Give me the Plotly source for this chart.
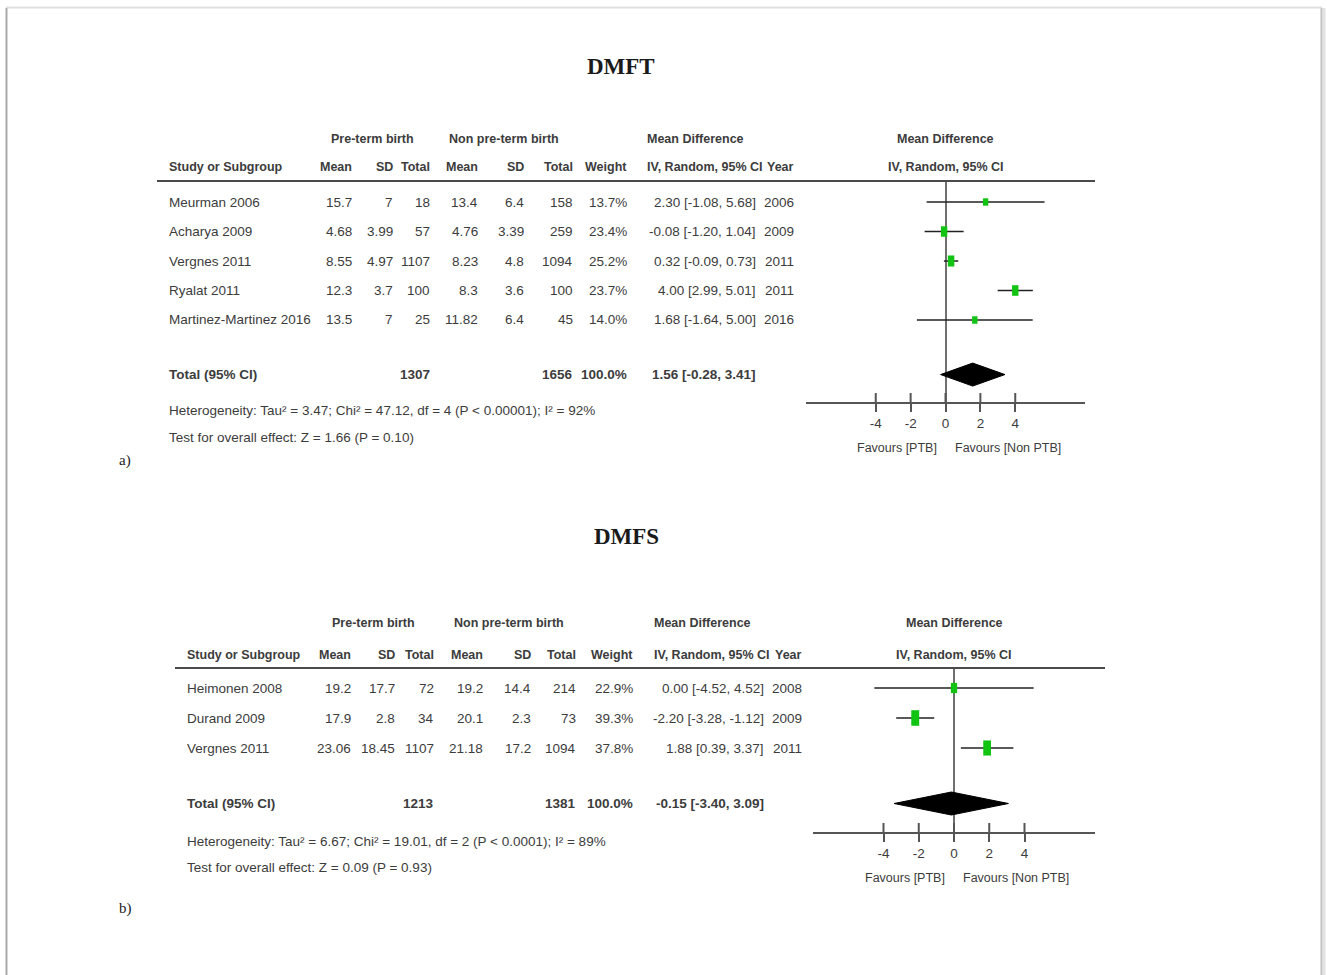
import plotly.graph_objects as go

# ---------------- DMFT ----------------
dmft_studies = ["Meurman 2006", "Acharya 2009", "Vergnes 2011", "Ryalat 2011", "Martinez-Martinez 2016"]
dmft_ptb_mean = [15.7, 4.68, 8.55, 12.3, 13.5]
dmft_ptb_sd = [7, 3.99, 4.97, 3.7, 7]
dmft_ptb_total = [18, 57, 1107, 100, 25]
dmft_non_mean = [13.4, 4.76, 8.23, 8.3, 11.82]
dmft_non_sd = [6.4, 3.39, 4.8, 3.6, 6.4]
dmft_non_total = [158, 259, 1094, 100, 45]
dmft_weight = [13.7, 23.4, 25.2, 23.7, 14.0]
dmft_md = [2.30, -0.08, 0.32, 4.00, 1.68]
dmft_ci_low = [-1.08, -1.20, -0.09, 2.99, -1.64]
dmft_ci_high = [5.68, 1.04, 0.73, 5.01, 5.00]
dmft_year = [2006, 2009, 2011, 2011, 2016]
dmft_pooled = [1.56, -0.28, 3.41]
dmft_heterogeneity = "Heterogeneity: Tau² = 3.47; Chi² = 47.12, df = 4 (P < 0.00001); I² = 92%"
dmft_overall = "Test for overall effect: Z = 1.66 (P = 0.10)"

# ---------------- DMFS ----------------
dmfs_studies = ["Heimonen 2008", "Durand 2009", "Vergnes 2011"]
dmfs_ptb_mean = [19.2, 17.9, 23.06]
dmfs_ptb_sd = [17.7, 2.8, 18.45]
dmfs_ptb_total = [72, 34, 1107]
dmfs_non_mean = [19.2, 20.1, 21.18]
dmfs_non_sd = [14.4, 2.3, 17.2]
dmfs_non_total = [214, 73, 1094]
dmfs_weight = [22.9, 39.3, 37.8]
dmfs_md = [0.00, -2.20, 1.88]
dmfs_ci_low = [-4.52, -3.28, 0.39]
dmfs_ci_high = [4.52, -1.12, 3.37]
dmfs_year = [2008, 2009, 2011]
dmfs_pooled = [-0.15, -3.40, 3.09]
dmfs_heterogeneity = "Heterogeneity: Tau² = 6.67; Chi² = 19.01, df = 2 (P < 0.0001); I² = 89%"
dmfs_overall = "Test for overall effect: Z = 0.09 (P = 0.93)"

axis_ticks = [-4, -2, 0, 2, 4]
favours_left = "Favours [PTB]"
favours_right = "Favours [Non PTB]"

panels = [
    dict(title="DMFT", tag="a)", studies=dmft_studies, m1=dmft_ptb_mean, sd1=dmft_ptb_sd, n1=dmft_ptb_total,
         m2=dmft_non_mean, sd2=dmft_non_sd, n2=dmft_non_total, w=dmft_weight, md=dmft_md,
         lo=dmft_ci_low, hi=dmft_ci_high, year=dmft_year, pooled=dmft_pooled,
         het=dmft_heterogeneity, test=dmft_overall),
    dict(title="DMFS", tag="b)", studies=dmfs_studies, m1=dmfs_ptb_mean, sd1=dmfs_ptb_sd, n1=dmfs_ptb_total,
         m2=dmfs_non_mean, sd2=dmfs_non_sd, n2=dmfs_non_total, w=dmfs_weight, md=dmfs_md,
         lo=dmfs_ci_low, hi=dmfs_ci_high, year=dmfs_year, pooled=dmfs_pooled,
         het=dmfs_heterogeneity, test=dmfs_overall),
]

# ---------------- page geometry (pixels) ----------------
W, H = 1327, 975
X_RANGE = [-8, 8]

GEOMETRY = [
    dict(title_x=621, title_y=66, tag_y=460, grp_y=139, head_y=167, rule_y=181, rule_x=(157, 1095),
         row0=202, step=29.5, axis_y=402, axis_x=(806, 1085), het_y=410, test_y=437, fav_y=448,
         c_study=167, c_m1=354, c_sd1=395, c_n1=432, c_m2=480, c_sd2=526, c_n2=575, c_w=629,
         c_md=645, c_ci=758, c_year=796, c_grp1=372, c_grp2=504),
    dict(title_x=626, title_y=536, tag_y=908, grp_y=623, head_y=655, rule_y=668, rule_x=(175, 1105),
         row0=688, step=30, axis_y=832, axis_x=(813, 1095), het_y=841, test_y=867, fav_y=878,
         c_study=185, c_m1=353, c_sd1=397, c_n1=436, c_m2=485, c_sd2=533, c_n2=578, c_w=635,
         c_md=652, c_ci=766, c_year=804, c_grp1=373, c_grp2=509),
]

TEXT = "#3c3c3c"
AXIS = "#555555"
GREEN = "#12c412"
SANS = "Liberation Sans, Arial, sans-serif"
SERIF = "Liberation Serif, Times New Roman, serif"
FS = 13.5      # body rows
FH = 12.5      # bold column headers
FF = 12.5      # favours labels


def fx(p):
    return p / W


def fy(p):
    return 1 - p / H


def num(v):
    return f"{v:g}"


fig = go.Figure()
annotations = []
shapes = []


def label(x, y, text, anchor="left", bold=False, size=FS, family=SANS, color=TEXT):
    annotations.append(dict(
        x=fx(x), y=fy(y), xref="paper", yref="paper", text=f"<b>{text}</b>" if bold else text,
        xanchor=anchor, yanchor="middle", showarrow=False,
        font=dict(family=family, size=size, color=color),
    ))


for k, (d, g) in enumerate(zip(panels, GEOMETRY)):
    xa, ya = ("x", "y") if k == 0 else ("x2", "y2")
    xkey, ykey = ("xaxis", "yaxis") if k == 0 else ("xaxis2", "yaxis2")
    n = len(d["studies"])
    rows = list(range(n))
    total_row = n + 0.85

    def rpx(r, g=g):
        return g["row0"] + g["step"] * r

    unit_px = (g["axis_x"][1] - g["axis_x"][0]) / (X_RANGE[1] - X_RANGE[0])

    # forest axes
    fig.layout[xkey] = dict(
        domain=[fx(g["axis_x"][0]), fx(g["axis_x"][1])], range=X_RANGE, anchor=ya,
        showline=True, linecolor=AXIS, linewidth=2,
        ticks="outside", ticklen=8, tickwidth=2, tickcolor=AXIS,
        tickvals=axis_ticks, ticktext=[str(t) for t in axis_ticks],
        tickfont=dict(family=SANS, size=FS, color=TEXT),
        showgrid=False, zeroline=True, zerolinecolor="#707070", zerolinewidth=1.5,
        fixedrange=True,
    )
    fig.layout[ykey] = dict(
        domain=[fy(g["axis_y"]), fy(g["rule_y"])],
        range=[(g["axis_y"] - g["row0"]) / g["step"], (g["rule_y"] - g["row0"]) / g["step"]],
        anchor=xa, visible=False, fixedrange=True,
    )

    # upper half of each tick mark (ticks cross the axis line)
    for t in axis_ticks:
        shapes.append(dict(type="line", xref=xa, yref="paper", x0=t, x1=t,
                           y0=fy(g["axis_y"]), y1=fy(g["axis_y"] - 9),
                           line=dict(color=AXIS, width=2)))

    # confidence interval lines
    cx, cy = [], []
    for r, lo, hi in zip(rows, d["lo"], d["hi"]):
        cx += [lo, hi, None]
        cy += [r, r, None]
    fig.add_trace(go.Scatter(x=cx, y=cy, xaxis=xa, yaxis=ya, mode="lines",
                             line=dict(color="#222222", width=1.5), hoverinfo="skip"))

    # weighted study boxes
    for r, m, w in zip(rows, d["md"], d["w"]):
        hw = (4 + 0.1 * w) / 2 / unit_px
        hh = (3 + 0.32 * w) / 2 / g["step"]
        shapes.append(dict(type="rect", xref=xa, yref=ya, x0=m - hw, x1=m + hw,
                           y0=r - hh, y1=r + hh, line=dict(width=0), fillcolor=GREEN))

    # pooled diamond
    pm, plo, phi = d["pooled"]
    h = 11.5 / g["step"]
    fig.add_trace(go.Scatter(
        x=[plo, pm, phi, pm, plo], y=[total_row, total_row - h, total_row, total_row + h, total_row],
        xaxis=xa, yaxis=ya, mode="lines", fill="toself", fillcolor="#000000",
        line=dict(color="#000000", width=1), hoverinfo="skip"))

    # header rule
    shapes.append(dict(type="line", xref="paper", yref="paper",
                       x0=fx(g["rule_x"][0]), x1=fx(g["rule_x"][1]),
                       y0=fy(g["rule_y"]), y1=fy(g["rule_y"]),
                       line=dict(color="#4a4a4a", width=2)))

    # titles
    label(g["title_x"], g["title_y"], d["title"], anchor="center", bold=True, size=23,
          family=SERIF, color="#1a1a1a")
    label(125, g["tag_y"], d["tag"], anchor="center", size=15, family=SERIF, color="#222222")

    # column headers
    label(g["c_grp1"], g["grp_y"], "Pre-term birth", anchor="center", bold=True, size=FH)
    label(g["c_grp2"], g["grp_y"], "Non pre-term birth", anchor="center", bold=True, size=FH)
    label(g["c_md"], g["grp_y"], "Mean Difference", bold=True, size=FH)
    label(g["c_study"], g["head_y"], "Study or Subgroup", bold=True, size=FH)
    for col, txt in [("c_m1", "Mean"), ("c_sd1", "SD"), ("c_n1", "Total"), ("c_m2", "Mean"),
                     ("c_sd2", "SD"), ("c_n2", "Total"), ("c_w", "Weight"), ("c_year", "Year")]:
        label(g[col], g["head_y"], txt, anchor="right", bold=True, size=FH)
    label(g["c_md"], g["head_y"], "IV, Random, 95% CI", bold=True, size=FH)
    for yy, txt in [(g["grp_y"], "Mean Difference"), (g["head_y"], "IV, Random, 95% CI")]:
        annotations.append(dict(x=0, xref=xa, y=fy(yy), yref="paper", text=f"<b>{txt}</b>",
                                xanchor="center", yanchor="middle", showarrow=False,
                                font=dict(family=SANS, size=FH, color=TEXT)))

    # study rows
    for i in rows:
        y = rpx(i)
        label(g["c_study"], y, d["studies"][i])
        label(g["c_m1"], y, num(d["m1"][i]), anchor="right")
        label(g["c_sd1"], y, num(d["sd1"][i]), anchor="right")
        label(g["c_n1"], y, str(d["n1"][i]), anchor="right")
        label(g["c_m2"], y, num(d["m2"][i]), anchor="right")
        label(g["c_sd2"], y, num(d["sd2"][i]), anchor="right")
        label(g["c_n2"], y, str(d["n2"][i]), anchor="right")
        label(g["c_w"], y, f"{d['w'][i]:.1f}%", anchor="right")
        label(g["c_ci"], y, f"{d['md'][i]:.2f} [{d['lo'][i]:.2f}, {d['hi'][i]:.2f}]", anchor="right")
        label(g["c_year"], y, str(d["year"][i]), anchor="right")

    # total row
    yt = rpx(total_row)
    label(g["c_study"], yt, "Total (95% CI)", bold=True)
    label(g["c_n1"], yt, str(sum(d["n1"])), anchor="right", bold=True)
    label(g["c_n2"], yt, str(sum(d["n2"])), anchor="right", bold=True)
    label(g["c_w"], yt, f"{sum(d['w']):.1f}%", anchor="right", bold=True)
    label(g["c_ci"], yt, f"{pm:.2f} [{plo:.2f}, {phi:.2f}]", anchor="right", bold=True)

    label(g["c_study"], g["het_y"], d["het"])
    label(g["c_study"], g["test_y"], d["test"])

    # favours labels either side of the null line
    for txt, anc, shift in [(favours_left, "right", -7), (favours_right, "left", 7)]:
        annotations.append(dict(x=0, xref=xa, y=fy(g["fav_y"]), yref="paper", text=txt,
                                xanchor=anc, xshift=shift, yanchor="middle", showarrow=False,
                                font=dict(family=SANS, size=FF, color=TEXT)))

# page edge shading
shapes += [
    dict(type="line", xref="paper", yref="paper", x0=fx(6), x1=fx(1322), y0=fy(7.5), y1=fy(7.5),
         line=dict(color="#e0e0e0", width=2)),
    dict(type="line", xref="paper", yref="paper", x0=fx(6.5), x1=fx(6.5), y0=fy(8), y1=0,
         line=dict(color="#aaaaaa", width=2)),
    dict(type="line", xref="paper", yref="paper", x0=fx(1321.5), x1=fx(1321.5), y0=fy(8), y1=0,
         line=dict(color="#c0c0c0", width=2)),
    dict(type="line", xref="paper", yref="paper", x0=fx(1324), x1=fx(1324), y0=fy(8), y1=0,
         line=dict(color="#e2e2e2", width=3)),
]

fig.update_layout(
    width=W, height=H, margin=dict(l=0, r=0, t=0, b=0),
    paper_bgcolor="white", plot_bgcolor="rgba(0,0,0,0)",
    showlegend=False, annotations=annotations, shapes=shapes,
)

fig.write_html("out.html", config={"displayModeBar": False})
